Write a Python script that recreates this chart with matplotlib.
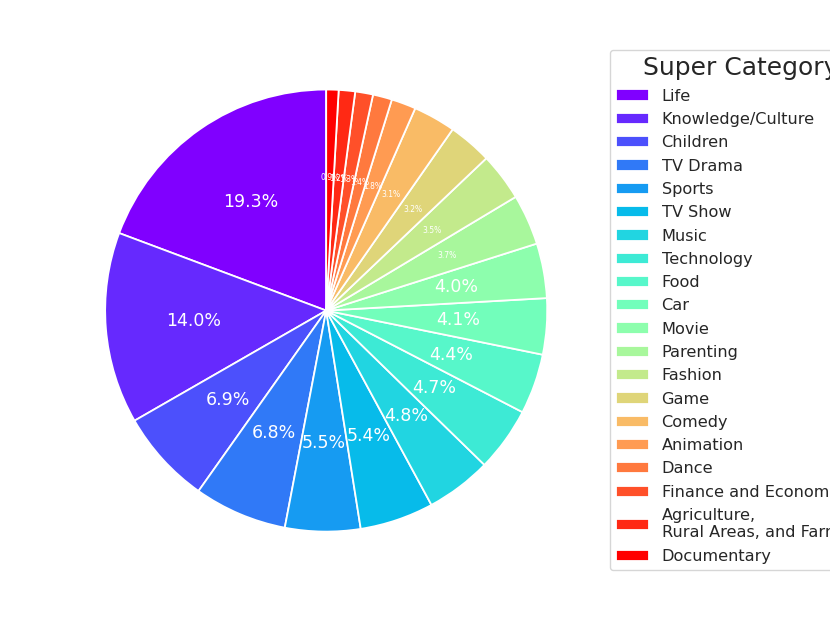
import matplotlib
matplotlib.use('Agg')
import matplotlib.pyplot as plt
import numpy as np

categories = ['Life', 'Knowledge/Culture', 'Children', 'TV Drama', 'Sports',
              'TV Show', 'Music', 'Technology', 'Food', 'Car', 'Movie',
              'Parenting', 'Fashion', 'Game', 'Comedy', 'Animation', 'Dance',
              'Finance and Economics', 'Agriculture,\nRural Areas, and Farming',
              'Documentary']
shares = [19.3, 14.0, 6.9, 6.8, 5.5, 5.4, 4.8, 4.7, 4.4, 4.1, 4.0,
          3.7, 3.5, 3.2, 3.1, 1.8, 1.4, 1.3, 1.2, 0.9]

colors = plt.cm.rainbow(np.linspace(0, 1, len(categories)))
plt.rcParams['text.color'] = '#262626'

fig = plt.figure(figsize=(8.3, 6.23), dpi=100)
ax = fig.add_axes([0.060, 0.058, 0.666, 0.887])

wedges, texts, autotexts = ax.pie(shares, colors=colors, startangle=90,
                                  autopct='%1.1f%%', pctdistance=0.6,
                                  wedgeprops=dict(edgecolor='white', linewidth=1.3),
                                  textprops=dict(color='white', fontsize=12.5))
# shrink the labels of the thin slices
for v, t in zip(shares, autotexts):
    if v < 4.0:
        t.set_fontsize(5.5)
ax.set_aspect('equal')

leg = ax.legend(wedges, categories, title='Super Category', fontsize=11.6,
                title_fontsize=18, loc='upper left', labelspacing=0.515,
                bbox_to_anchor=(610 / 830, 1 - 50 / 623),
                bbox_transform=fig.transFigure, borderaxespad=0)

fig.savefig('out.png', dpi=100)
